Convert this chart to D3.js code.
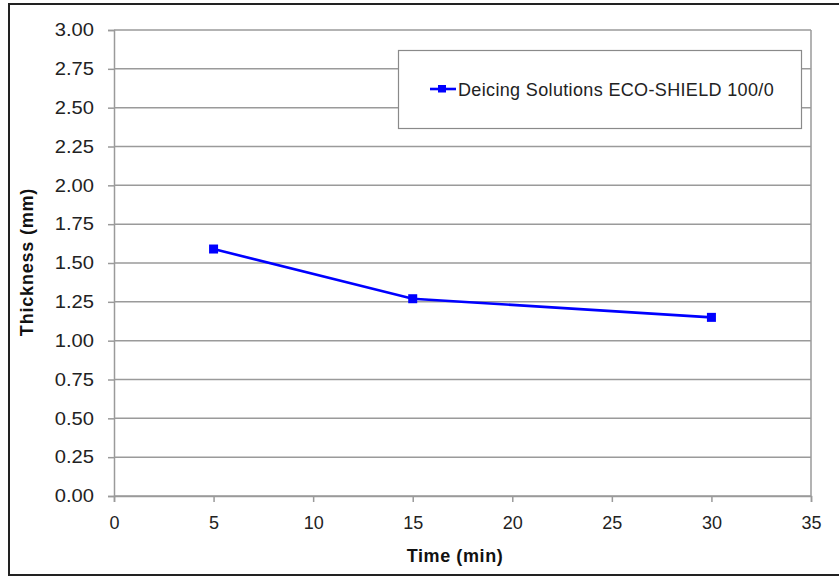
<!DOCTYPE html>
<html>
<head>
<meta charset="utf-8">
<script src="https://cdn.jsdelivr.net/npm/d3@7"></script>
<style>
  html, body { margin: 0; padding: 0; background: #fff; }
  svg { display: block; }
  text { font-family: "Liberation Sans", Arial, Helvetica, sans-serif; }
</style>
</head>
<body>
<svg id="chart" width="839" height="576"></svg>
<script>
// Film thickness over time
const seriesName = "Deicing Solutions ECO-SHIELD 100/0";
const times = [5, 15, 30];
const thickness = [1.59, 1.27, 1.15];
const xTicks = [0, 5, 10, 15, 20, 25, 30, 35];
const yTicks = [0, 0.25, 0.5, 0.75, 1.0, 1.25, 1.5, 1.75, 2.0, 2.25, 2.5, 2.75, 3.0];

const svg = d3.select("#chart");
const W = 839, H = 576;
const plot = { left: 114, right: 811, top: 30, bottom: 496 };
const gridColor = "#9a9a9a";

// outer frame
svg.append("rect")
  .attr("x", 9).attr("y", 4)
  .attr("width", W + 10).attr("height", H - 5)
  .attr("fill", "#fff").attr("stroke", "#222").attr("stroke-width", 2);

const x = d3.scaleLinear().domain([0, 35]).range([plot.left, plot.right]);
const y = d3.scaleLinear().domain([0, 3]).range([plot.bottom, plot.top]);

// horizontal gridlines
svg.append("g")
  .selectAll("line")
  .data(yTicks)
  .join("line")
  .attr("x1", plot.left).attr("x2", plot.right)
  .attr("y1", d => y(d)).attr("y2", d => y(d))
  .attr("stroke", gridColor).attr("stroke-width", 1.5);

// right border of plot area
svg.append("line")
  .attr("x1", plot.right).attr("x2", plot.right)
  .attr("y1", plot.top).attr("y2", plot.bottom)
  .attr("stroke", gridColor).attr("stroke-width", 1.5);

// y axis
const yAxis = svg.append("g")
  .attr("transform", `translate(${plot.left},0)`)
  .call(d3.axisLeft(y).tickValues(yTicks).tickFormat(d3.format(".2f")).tickSize(6).tickPadding(14));
// x axis
const xAxis = svg.append("g")
  .attr("transform", `translate(0,${plot.bottom})`)
  .call(d3.axisBottom(x).tickValues(xTicks).tickSize(6).tickPadding(14));

[yAxis, xAxis].forEach(a => {
  a.select(".domain").attr("stroke", gridColor).attr("stroke-width", 1.5);
  a.selectAll(".tick line").attr("stroke", gridColor).attr("stroke-width", 1.5);
  a.selectAll(".tick text")
    .attr("fill", "#222")
    .style("font-size", "18px")
    .style("font-family", "\"Liberation Sans\", Arial, sans-serif");
});
// slightly wider value labels on the y axis
yAxis.selectAll(".tick text")
  .attr("x", 0)
  .attr("transform", "translate(-20,0) scale(1.12,1)");

// axis titles
svg.append("text")
  .attr("x", 455).attr("y", 562)
  .attr("text-anchor", "middle")
  .style("font-size", "18px").style("font-weight", "bold")
  .style("letter-spacing", "0.6px")
  .attr("fill", "#111")
  .text("Time (min)");

svg.append("text")
  .attr("transform", "translate(33,262) rotate(-90)")
  .attr("text-anchor", "middle")
  .style("font-size", "18px").style("font-weight", "bold")
  .style("letter-spacing", "0.8px")
  .attr("fill", "#111")
  .text("Thickness (mm)");

// series line and markers
const pts = times.map((t, i) => [t, thickness[i]]);
svg.append("path")
  .datum(pts)
  .attr("fill", "none")
  .attr("stroke", "#0000ff")
  .attr("stroke-width", 2.6)
  .attr("d", d3.line().x(d => x(d[0])).y(d => y(d[1])));

svg.append("g")
  .selectAll("rect")
  .data(pts)
  .join("rect")
  .attr("x", d => x(d[0]) - 4.5).attr("y", d => y(d[1]) - 4.5)
  .attr("width", 9).attr("height", 9)
  .attr("fill", "#0000ff");

// legend
const lg = svg.append("g");
lg.append("rect")
  .attr("x", 398.5).attr("y", 50.5)
  .attr("width", 403).attr("height", 78)
  .attr("fill", "#fff").attr("stroke", "#8a8a8a").attr("stroke-width", 1.2);
lg.append("line")
  .attr("x1", 430).attr("x2", 456).attr("y1", 89).attr("y2", 89)
  .attr("stroke", "#0000ff").attr("stroke-width", 2.6);
lg.append("rect")
  .attr("x", 438).attr("y", 85).attr("width", 8).attr("height", 7.5)
  .attr("fill", "#0000ff");
lg.append("text")
  .attr("x", 458).attr("y", 95.5)
  .style("font-size", "18px")
  .style("letter-spacing", "0.35px")
  .attr("fill", "#222")
  .text(seriesName);
</script>
</body>
</html>
